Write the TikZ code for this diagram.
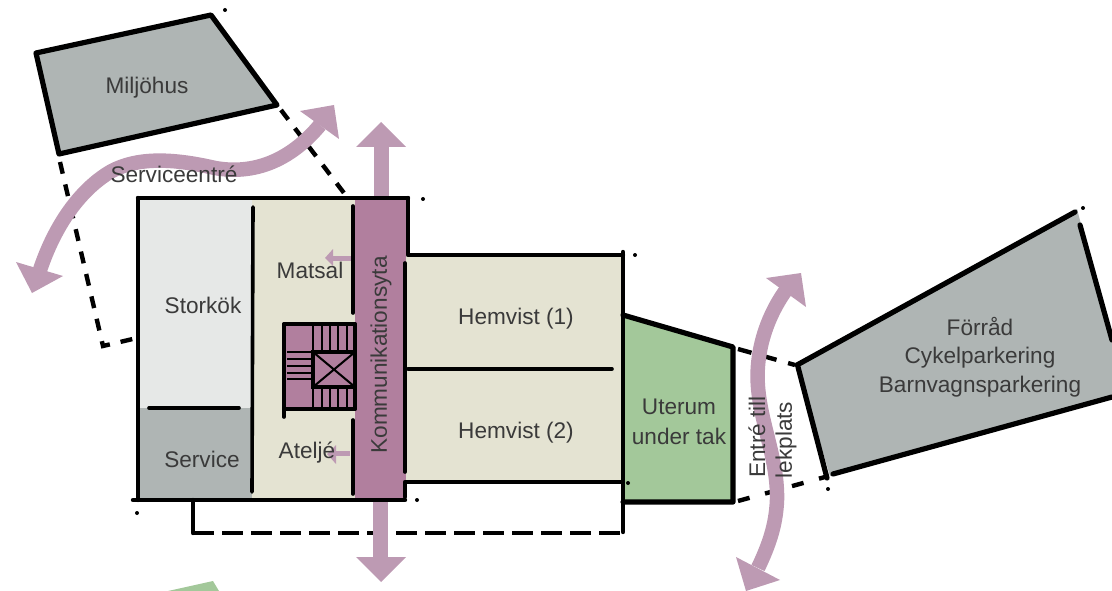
\documentclass[tikz,border=0pt]{standalone}
\usepackage{fontspec}
\setmainfont{Liberation Sans}
\usetikzlibrary{arrows.meta}
\definecolor{greybld}{HTML}{AFB5B4}
\definecolor{kitchen}{HTML}{E6E8E7}
\definecolor{cream}{HTML}{E4E3D2}
\definecolor{purp}{HTML}{B17F9E}
\definecolor{arrowc}{HTML}{BD9AB3}
\definecolor{greenr}{HTML}{A3C89A}
\definecolor{txt}{HTML}{3A3A3A}
\tikzset{
  wall/.style={draw=black,line width=5.2pt,line cap=round,line join=round},
  mainwall/.style={draw=black,line width=4.4pt,line cap=round,line join=round},
  thinwall/.style={draw=black,line width=3.6pt,line cap=round},
  tread/.style={draw=black,line width=2pt},
  dashline/.style={draw=black,line width=4.4pt,dash pattern=on 12pt off 11pt},
  flow/.style={draw=arrowc,line width=14.5pt},
  head/.style={fill=arrowc,draw=none},
  lbl/.style={text=txt,font=\fontsize{22.6}{30}\selectfont,align=center,inner sep=0pt},
  speck/.style={fill=black,draw=none}
}
\begin{document}
\begin{tikzpicture}[x=1pt,y=-1pt]
\useasboundingbox (0,0) rectangle (1112,591);
% fills
\fill[kitchen] (138,198) rectangle (252,408);
\fill[greybld] (138,408) rectangle (252,500);
\fill[cream] (252,198) rectangle (355,500);
\fill[cream] (406,255) rectangle (623,482);
\fill[greybld] (36,53) -- (211,15) -- (277,105) -- (59,154) -- cycle;
\fill[greenr] (623,315) -- (733,347) -- (733,502) -- (623,502) -- cycle;
\fill[greenr] (168,591) -- (213,581) -- (219,591) -- cycle;
\fill[greybld] (797,365) -- (1077,209) -- (1112,340) -- (1112,397) -- (830,476) -- cycle;
% dashed lines
\draw[dashline] (60,162) -- (103,346) -- (137,338);
\draw[dashline] (281,110) -- (347,197);
\draw[dashline,dash pattern=on 21pt off 8pt] (193,533) -- (623,533);
\draw[dashline,dash pattern=on 14pt off 12pt] (738,349) -- (795,365);
\draw[dashline,dash pattern=on 12pt off 16pt] (738,501) -- (825,477);
% flow arrows
\draw[flow] (40,270) .. controls (55,225) and (80,190) .. (110,172)
  .. controls (140,155) and (180,160) .. (215,168)
  .. controls (260,176) and (295,155) .. (320,125);
\fill[head] (16,262) -- (63,276) -- (32,293) -- cycle;
\fill[head] (300,111) -- (334,105) -- (339,139) -- cycle;
\draw[flow] (786,290) .. controls (768,315) and (755,350) .. (758,387)
  .. controls (761,425) and (778,460) .. (777,500)
  .. controls (776,525) and (769,545) .. (758,568);
\fill[head] (766,278) -- (801,273) -- (806,307) -- cycle;
\fill[head] (736,557) -- (780,580) -- (746,591) -- cycle;
\fill[arrowc] (374,147) rectangle (389,198);
\fill[arrowc] (373,500) rectangle (388,557);
\fill[head] (356,147) -- (406,147) -- (381,122) -- cycle;
\fill[head] (356,557) -- (406,557) -- (381,582) -- cycle;
% circulation
\fill[purp] (355,198) rectangle (406,500);
\fill[purp] (284,324) rectangle (355,409);
\fill[arrowc] (352,256) rectangle (333,261);
\fill[head] (333,249) -- (333,266) -- (325,258) -- cycle;
\fill[arrowc] (350,451) rectangle (335,456);
\fill[head] (336,445) -- (336,464) -- (327,454) -- cycle;
% outlines
\draw[wall] (36,53) -- (211,15) -- (277,105) -- (59,154) -- cycle;
\draw[wall] (797,365) -- (1075,212);
\draw[wall] (1080,225) -- (1112,340);
\draw[wall] (1112,397) -- (833,474);
\draw[wall] (798,367) -- (827,478);
\draw[mainwall] (138,198) -- (408,198);
\draw[mainwall] (138,198) -- (138,500);
\draw[mainwall] (133,500) -- (405,500);
\draw[mainwall] (408,198) -- (408,255) -- (623,255);
\draw[mainwall] (623,252) -- (623,532);
\draw[mainwall] (405,497) -- (405,482) -- (623,482);
\draw[thinwall] (405,263) -- (405,472);
\draw[mainwall] (193,500) -- (193,533);
\draw[wall] (623,315) -- (733,347) -- (733,502) -- (623,502);
\draw[thinwall] (408,369) -- (612,369);
\draw[thinwall] (253,207) -- (252,492);
\draw[thinwall] (353,206) -- (353,313);
\draw[thinwall] (353,420) -- (353,494);
\draw[thinwall] (149,408) -- (239,408);
% stair
\draw[thinwall] (284,324) -- (355,324);
\draw[thinwall] (284,409) -- (355,409);
\draw[thinwall] (284,324) -- (284,417);
\draw[thinwall] (355,324) -- (355,409);
\draw[thinwall] (313,352) rectangle (355,387);
\draw[tread] (313,352) -- (355,387) (313,387) -- (355,352);
\foreach \x in {322,330,338,347} {\draw[tread] (\x,326) -- (\x,352); \draw[tread] (\x,387) -- (\x,411);}
\draw[tread] (313,326) -- (313,352) (313,387) -- (313,409);
\foreach \y in {352,359,366,373,379} {\draw[tread] (287,\y) -- (313,\y);}
% specks
\foreach \p in {(225,10),(423,199),(635,255),(628,483),(417,500),(137,513),(1083,208),(828,489)} {\fill[speck] \p circle (2pt);}
% labels
\node[lbl] (miljo) at (147,88) {Miljöhus};
\node[lbl] (service1) at (174,174) {Serviceentré};
\node[lbl] (storkok) at (203,305) {Storkök};
\node[lbl] (matsal) at (310,270) {Matsal};
\node[lbl] (service2) at (202,459) {Service};
\node[lbl] (atelje) at (307,453) {Ateljé};
\node[lbl,rotate=90] (komm) at (381,355) {Kommunikationsyta};
\node[lbl] (hem1) at (516,319) {Hemvist (1)};
\node[lbl] (hem2) at (516,433) {Hemvist (2)};
\node[lbl] (uterum) at (679,422) {Uterum\\under tak};
\node[lbl,rotate=90] (entre) at (757,437) {Entré till};
\node[lbl,rotate=90] (lek) at (786,440) {lekplats};
\node[lbl,font=\fontsize{22.6}{28.5}\selectfont] (forrad) at (980,357) {Förråd\\Cykelparkering\\Barnvagnsparkering};
\end{tikzpicture}
\end{document}
